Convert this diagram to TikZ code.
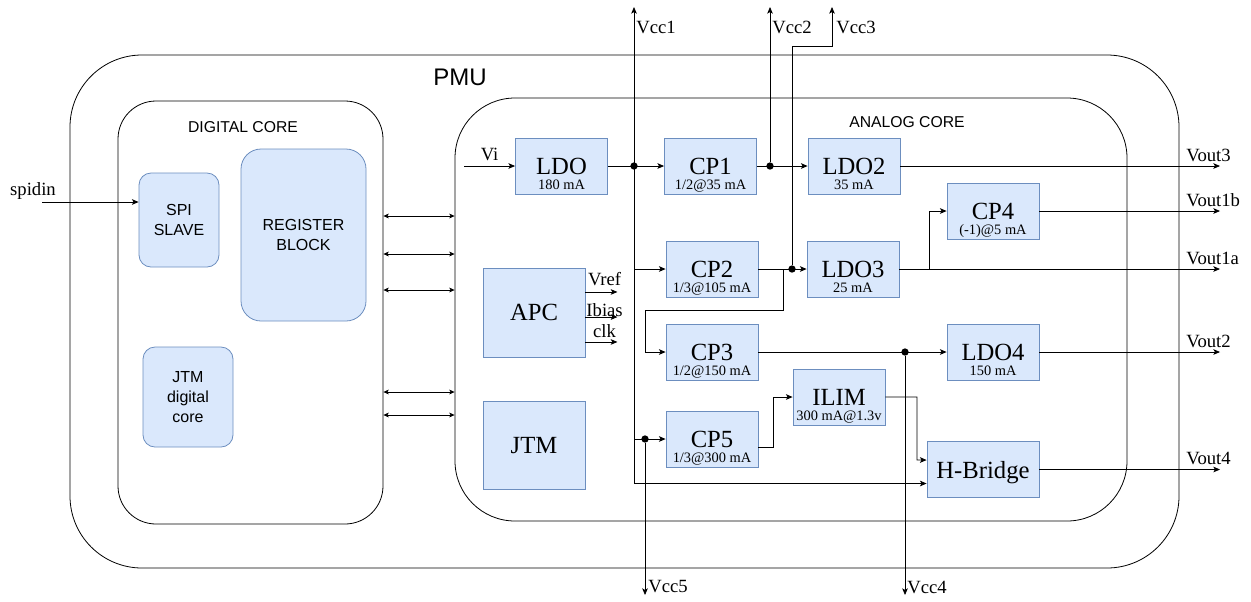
\documentclass[tikz,border=0pt]{standalone}
\usepackage{fontspec}
\setmainfont{Liberation Serif}
\setsansfont{Liberation Sans}
\usetikzlibrary{arrows.meta}
\definecolor{blockfill}{HTML}{DAE8FC}
\definecolor{blockline}{HTML}{6C8EBF}

\begin{document}
\begin{tikzpicture}[x=0.75pt,y=-0.75pt,->,>={Stealth[length=5pt,width=4.2pt,inset=1.2pt]},
	semithick]
	\tikzstyle{cont}=[draw,rectangle,inner sep=0pt]
	\tikzstyle{title}=[font=\sffamily\fontsize{11.8}{14}\selectfont]
	\tikzstyle{dblock}=[draw=blockline,fill=blockfill,rectangle,rounded corners=9pt,align=center,
		font=\sffamily\fontsize{12}{15}\selectfont]
	\tikzstyle{block}=[draw=blockline,fill=blockfill,rectangle,minimum width=69pt,minimum height=42pt,
		inner sep=0pt,text depth=0pt,font=\fontsize{18.5}{18.5}\selectfont]
	\tikzstyle{sub}=[anchor=base,yshift=4pt,inner sep=0pt,font=\fontsize{10.8}{11}\selectfont]
	\tikzstyle{sig}=[inner sep=1.5pt,font=\fontsize{14}{14}\selectfont]
	\tikzstyle{vout}=[sig,anchor=base west,xshift=-27pt,yshift=3.4pt]
	\tikzstyle{dot}=[circle,fill,inner sep=0pt,minimum size=5.5pt]
	\tikzstyle{bus}=[<->,>={Stealth[length=4pt,width=3.6pt,inset=1pt]}]

	\useasboundingbox (0,0) rectangle (1251,601);

	% containers
	\node[cont,minimum width=831.75pt,minimum height=384.75pt,rounded corners=54pt] (pmu) at (624.5,311.5) {};
	\node[cont,minimum width=198.75pt,minimum height=317.25pt,rounded corners=28.5pt] (dig) at (250.5,312.5) {};
	\node[cont,minimum width=504pt,minimum height=317.25pt,rounded corners=45pt] (ana) at (791,309.5) {};
	\node[font=\sffamily\fontsize{18}{18}\selectfont] (pmutxt) at (460,77) {PMU};
	\node[title] (digtxt) at (243,127) {DIGITAL CORE};
	\node[title] (anatxt) at (907,122) {ANALOG CORE};

	% digital core
	\node[dblock,minimum width=60pt,minimum height=70.5pt] (spi) at (179,220) {SPI\\SLAVE};
	\node[dblock,minimum width=93.75pt,minimum height=129pt,rounded corners=15pt] (reg) at (303.5,235) {REGISTER\\BLOCK};
	\node[dblock,minimum width=67.5pt,minimum height=75pt] (jtmd) at (188,397) {JTM\\digital\\core};

	% analog core
	\node[block,label={[sub]south:180 mA}] (ldo) at (561.5,166) {LDO};
	\node[block,label={[sub]south:1/2@35 mA}] (cp1) at (710.5,166) {CP1};
	\node[block,label={[sub]south:35 mA}] (ldo2) at (854,166) {LDO2};
	\node[block,label={[sub]south:1/3@105 mA}] (cp2) at (712,269) {CP2};
	\node[block,label={[sub]south:25 mA}] (ldo3) at (853,269) {LDO3};
	\node[block,label={[sub]south:{(-1)@5 mA}}] (cp4) at (993,211) {CP4};
	\node[block,minimum width=76.5pt,minimum height=66.75pt] (apc) at (534,312.5) {APC};
	\node[block,minimum width=76.5pt,minimum height=66pt] (jtm) at (534,445) {JTM};
	\node[block,label={[sub]south:1/2@150 mA}] (cp3) at (712,352) {CP3};
	\node[block,label={[sub]south:1/3@300 mA}] (cp5) at (712,439) {CP5};
	\node[block,label={[sub]south:300 mA@1.3v}] (ilim) at (839,397) {ILIM};
	\node[block,label={[sub]south:150 mA}] (ldo4) at (993,352) {LDO4};
	\node[block,minimum width=84pt] (hb) at (983,469.5) {H-Bridge};

	\node[dot] (j1) at (634,166) {};
	\node[dot] (j2) at (770,166) {};
	\node[dot] (j3) at (792,269) {};
	\node[dot] (j4) at (905,352) {};
	\node[dot] (j5) at (645,439) {};

	\coordinate (vcc1) at (634,7);
	\coordinate (vcc2) at (770,7);
	\coordinate (vcc3) at (832,7);
	\coordinate (vcc4) at (905,595);
	\coordinate (vcc5) at (645,595);
	\coordinate (vi) at (464,166);
	\coordinate (spiin) at (42,202);
	\coordinate (vout3) at (1220,166);
	\coordinate (vout1b) at (1220,211);
	\coordinate (vout1a) at (1220,269);
	\coordinate (vout2) at (1220,352);
	\coordinate (vout4) at (1220,469.5);

	% signals
	\node[sig,anchor=base] (spitxt) at (33,195) {spidin};
	\draw (spiin) -- (spiin -| spi.west);
	\foreach \y in {216,254,290,392,415}
		\draw[bus] (dig.east |- 0,\y) -- (ana.west |- 0,\y);

	\draw (vi) -- (ldo) node[sig,midway,anchor=base,yshift=4.5pt] (vitxt) {Vi};
	\draw (ldo) -- (cp1);
	\draw (cp1) -- (ldo2);
	\draw (j2) -- (vcc2);
	\draw (ldo2) -- (vout3) node[vout] (vout3txt) {Vout3};
	\draw[<->] (vcc1) |- ([yshift=-10.5pt]hb.west);
	\draw (j1 |- cp2) -- (cp2);
	\draw (j1 |- cp5) -- (cp5);
	\draw (cp2) -- (ldo3);
	\draw (j3) -- (792,46) -| (vcc3);
	\draw ([xshift=18.75pt]cp2.east) |- (645,310) |- (cp3);
	\draw (ldo3) -- (vout1a) node[vout] (vout1atxt) {Vout1a};
	\draw ([xshift=22.5pt]ldo3.east) |- (cp4);
	\draw (cp4) -- (vout1b) node[vout] (vout1btxt) {Vout1b};
	\draw (cp3) -- (ldo4);
	\draw (j4) -- (vcc4);
	\draw (ldo4) -- (vout2) node[vout] (vout2txt) {Vout2};
	\draw ([yshift=-6pt]cp5.east) -- ++(15,0) |- (ilim);
	\draw (ilim) -| (917,460) -- ([yshift=7.1pt]hb.west);
	\draw (hb) -- (vout4) node[vout] (vout4txt) {Vout4};
	\draw (j5) -- (vcc5);

	\draw ([yshift=15.4pt]apc.east) -- ++(32,0) node[sig,pos=0.6,anchor=base,yshift=5pt] (vreftxt) {Vref};
	\draw ([yshift=-3.4pt]apc.east) -- ++(32,0) node[sig,pos=0.6,anchor=base,yshift=0.5pt] (ibiastxt) {Ibias};
	\draw ([yshift=-22.1pt]apc.east) -- ++(32,0) node[sig,pos=0.6,anchor=base,yshift=3pt] (clktxt) {clk};

	\node[sig,anchor=west] (vcc1txt) at (634,27) {Vcc1};
	\node[sig,anchor=west] (vcc2txt) at (770,27) {Vcc2};
	\node[sig,anchor=west] (vcc3txt) at (834,27) {Vcc3};
	\node[sig,anchor=west] (vcc5txt) at (646,587) {Vcc5};
	\node[sig,anchor=west] (vcc4txt) at (905,587) {Vcc4};
\end{tikzpicture}
\end{document}
